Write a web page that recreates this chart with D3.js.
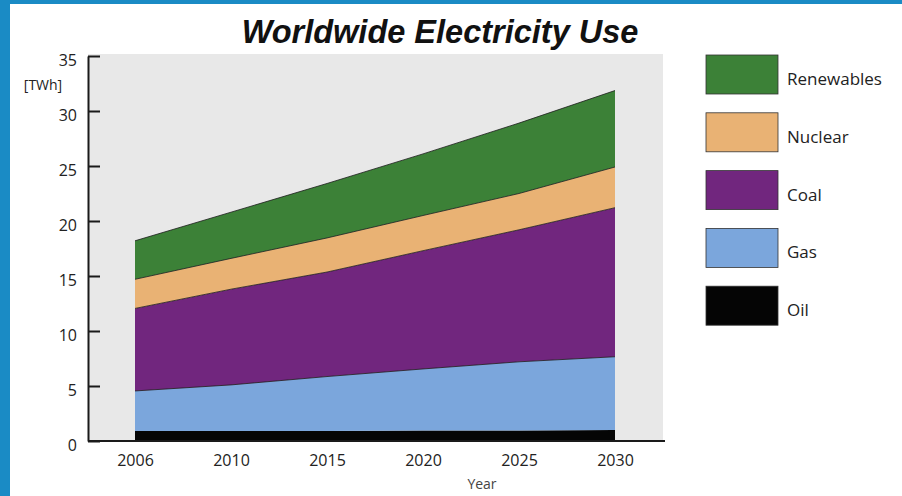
<!DOCTYPE html>
<meta charset="utf-8">
<script src="https://d3js.org/d3.v7.min.js"></script>
<style>
  body { margin: 0; background: #fff; }
  svg { display: block; }
</style>
<div id="chart"></div>
<script>

// data (TWh, per source, stacked bottom to top)
var years = ["2006", "2010", "2015", "2020", "2025", "2030"]
var oil = [0.9, 0.9, 0.9, 0.95, 0.95, 1.0]
var gas = [3.65, 4.2, 4.96, 5.6, 6.25, 6.66]
var coal = [7.5, 8.7, 9.5, 10.75, 12.0, 13.55]
var nuclear = [2.65, 2.8, 3.1, 3.2, 3.3, 3.7]
var renewables = [3.5, 4.2, 4.95, 5.6, 6.4, 6.95]
var keys = ["Oil", "Gas", "Coal", "Nuclear", "Renewables"]
var yTicks = [0, 5, 10, 15, 20, 25, 30, 35]

var colors = {
  Renewables: "#3c8137",
  Nuclear: "#e9b274",
  Coal: "#71267e",
  Gas: "#7ba6dc",
  Oil: "#050505"
}

var table = years.map(function(y, i) {
  return { year: y, Oil: oil[i], Gas: gas[i], Coal: coal[i], Nuclear: nuclear[i], Renewables: renewables[i] }
})

var W = 902, H = 496
var plot = { left: 88, right: 663, top: 54, bottom: 441 }

var svg = d3.select("#chart")
  .append("svg")
    .attr("width", W)
    .attr("height", H)

// blue frame of the slide
svg.append("rect").attr("x", 0).attr("y", 0).attr("width", W).attr("height", 4).attr("fill", "#1a8bc5")
svg.append("rect").attr("x", 0).attr("y", 0).attr("width", 10).attr("height", H).attr("fill", "#1a8bc5")

// title
svg.append("text")
  .attr("x", 440)
  .attr("y", 43)
  .attr("text-anchor", "middle")
  .style("font-family", "'Liberation Sans', Arial, sans-serif")
  .style("font-weight", "bold")
  .style("font-style", "italic")
  .style("font-size", "32.5px")
  .style("fill", "#111")
  .text("Worldwide Electricity Use")

// gray plot background
svg.append("rect")
  .attr("x", plot.left)
  .attr("y", plot.top)
  .attr("width", plot.right - plot.left)
  .attr("height", plot.bottom - plot.top)
  .attr("fill", "#e8e8e8")

var x = d3.scalePoint()
  .domain(years)
  .range([135, 615])

var y = d3.scaleLinear()
  .domain([0, 35])
  .range([441, 56])

var series = d3.stack().keys(keys)(table)

var area = d3.area()
  .x(function(d) { return x(d.data.year) })
  .y0(function(d) { return y(d[0]) })
  .y1(function(d) { return y(d[1]) })

svg.append("g")
  .selectAll("path")
  .data(series)
  .enter()
  .append("path")
    .attr("d", area)
    .attr("fill", function(d) { return colors[d.key] })

// thin dark edge along the top of each layer
var edge = d3.line()
  .x(function(d) { return x(d.data.year) })
  .y(function(d) { return y(d[1]) })

svg.append("g")
  .selectAll("path")
  .data(series.slice(1))
  .enter()
  .append("path")
    .attr("d", edge)
    .attr("fill", "none")
    .attr("stroke", "#1c1c1c")
    .attr("stroke-width", 0.8)

var tickFont = "'Open Sans', 'Noto Sans', sans-serif"

// Y axis, ticks pointing inwards
var yAxis = svg.append("g")
  .attr("transform", "translate(" + plot.left + ",0)")
  .call(d3.axisLeft(y).tickValues(yTicks).tickSizeInner(-12).tickSizeOuter(0).tickPadding(11))
yAxis.select(".domain").attr("stroke", "#1a1a1a").attr("stroke-width", 2)
yAxis.selectAll(".tick line").attr("stroke", "#1a1a1a").attr("stroke-width", 2)
yAxis.selectAll(".tick text")
  .attr("dy", "0.62em")
  .style("font-family", tickFont)
  .style("font-size", "16px")
  .style("fill", "#222")

// X axis
var xAxis = svg.append("g")
  .attr("transform", "translate(0," + plot.bottom + ")")
  .call(d3.axisBottom(x).tickSize(0).tickPadding(14))
xAxis.select(".domain").remove()
xAxis.selectAll(".tick text")
  .style("font-family", tickFont)
  .style("font-size", "16px")
  .style("fill", "#222")

svg.append("line")
  .attr("x1", plot.left)
  .attr("x2", plot.right + 2)
  .attr("y1", plot.bottom)
  .attr("y2", plot.bottom)
  .attr("stroke", "#1a1a1a")
  .attr("stroke-width", 2)

// axis titles
svg.append("text")
  .attr("x", 43)
  .attr("y", 90)
  .attr("text-anchor", "middle")
  .style("font-family", tickFont)
  .style("font-size", "14px")
  .style("fill", "#222")
  .text("[TWh]")

svg.append("text")
  .attr("x", 482)
  .attr("y", 489)
  .attr("text-anchor", "middle")
  .style("font-family", tickFont)
  .style("font-size", "14px")
  .style("fill", "#444")
  .text("Year")

// legend, top to bottom
var legendKeys = keys.slice().reverse()
var legend = svg.append("g")
  .selectAll("g")
  .data(legendKeys)
  .enter()
  .append("g")
    .attr("transform", function(d, i) { return "translate(706," + (55 + i * 57.8) + ")" })

legend.append("rect")
  .attr("width", 72)
  .attr("height", 39)
  .attr("fill", function(d) { return colors[d] })
  .attr("stroke", "#333")
  .attr("stroke-width", 0.8)

legend.append("text")
  .attr("x", 81)
  .attr("y", 30)
  .style("font-family", tickFont)
  .style("font-size", "17px")
  .style("fill", "#222")
  .text(function(d) { return d })

</script>
